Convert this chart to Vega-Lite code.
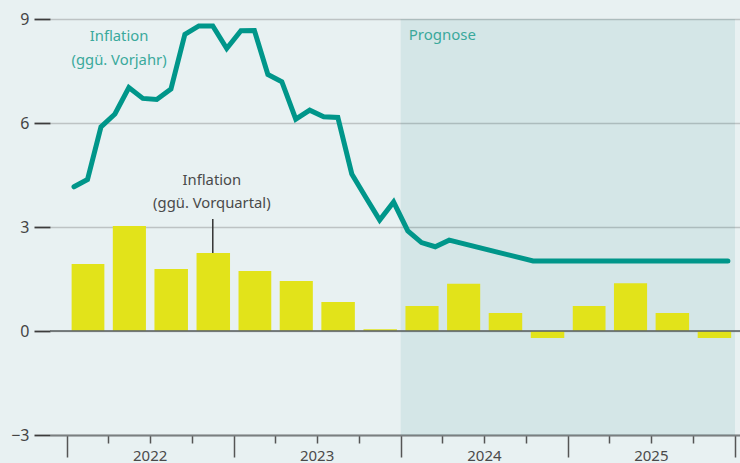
{
  "$schema": "https://vega.github.io/schema/vega-lite/v6.json",
  "autosize": "none",
  "width": 690,
  "height": 416,
  "padding": {"left": 50, "top": 19, "right": 0, "bottom": 28},
  "background": "#e8f1f2",
  "config": {
    "view": {"stroke": null},
    "font": "Noto Sans",
    "text": {"font": "Noto Sans"}
  },
  "datasets": {
    "quarterly": [
      {"quarter": "2022-01-01", "value": 1.93},
      {"quarter": "2022-04-01", "value": 3.03},
      {"quarter": "2022-07-01", "value": 1.79},
      {"quarter": "2022-10-01", "value": 2.25},
      {"quarter": "2023-01-01", "value": 1.73},
      {"quarter": "2023-04-01", "value": 1.44},
      {"quarter": "2023-07-01", "value": 0.84},
      {"quarter": "2023-10-01", "value": 0.05},
      {"quarter": "2024-01-01", "value": 0.72},
      {"quarter": "2024-04-01", "value": 1.36},
      {"quarter": "2024-07-01", "value": 0.52},
      {"quarter": "2024-10-01", "value": -0.2},
      {"quarter": "2025-01-01", "value": 0.72},
      {"quarter": "2025-04-01", "value": 1.38},
      {"quarter": "2025-07-01", "value": 0.52},
      {"quarter": "2025-10-01", "value": -0.2}
    ],
    "monthly": [
      {"month": "2022-01-01", "value": 4.16},
      {"month": "2022-02-01", "value": 4.37},
      {"month": "2022-03-01", "value": 5.89},
      {"month": "2022-04-01", "value": 6.26},
      {"month": "2022-05-01", "value": 7.02},
      {"month": "2022-06-01", "value": 6.71},
      {"month": "2022-07-01", "value": 6.68},
      {"month": "2022-08-01", "value": 6.98},
      {"month": "2022-09-01", "value": 8.56},
      {"month": "2022-10-01", "value": 8.8},
      {"month": "2022-11-01", "value": 8.8},
      {"month": "2022-12-01", "value": 8.15},
      {"month": "2023-01-01", "value": 8.66},
      {"month": "2023-02-01", "value": 8.67},
      {"month": "2023-03-01", "value": 7.4},
      {"month": "2023-04-01", "value": 7.19},
      {"month": "2023-05-01", "value": 6.11},
      {"month": "2023-06-01", "value": 6.37},
      {"month": "2023-07-01", "value": 6.18},
      {"month": "2023-08-01", "value": 6.16},
      {"month": "2023-09-01", "value": 4.53},
      {"month": "2023-10-01", "value": 3.86},
      {"month": "2023-11-01", "value": 3.2},
      {"month": "2023-12-01", "value": 3.72},
      {"month": "2024-01-01", "value": 2.89},
      {"month": "2024-02-01", "value": 2.55},
      {"month": "2024-03-01", "value": 2.43},
      {"month": "2024-04-01", "value": 2.62},
      {"month": "2024-10-01", "value": 2.02},
      {"month": "2025-12-01", "value": 2.02}
    ]
  },
  "encoding": {
    "y": {
      "type": "quantitative",
      "scale": {"domain": [-3, 9], "nice": false, "zero": false},
      "axis": {
        "title": null,
        "values": [-3, 0, 3, 6, 9],
        "domain": false,
        "tickSize": 16,
        "tickWidth": 1.8,
        "tickColor": "#3c3c3c",
        "labelPadding": 5,
        "labelFontSize": 16,
        "labelColor": "#444444",
        "labelFont": "Noto Sans",
        "grid": true,
        "gridColor": "#bdc3c4",
        "gridWidth": 1.5
      }
    }
  },
  "layer": [
    {
      "data": {"values": [{"start": "2024-01-01", "end": "2026-01-01"}]},
      "mark": {"type": "rect", "color": "#007878", "opacity": 0.085},
      "encoding": {
        "x": {
          "field": "start",
          "type": "temporal",
          "scale": {
            "type": "utc",
            "domain": [
              {"year": 2021, "month": 11, "date": 25, "utc": true},
              {"year": 2026, "month": 1, "date": 12, "utc": true}
            ]
          },
          "axis": {
            "title": null,
            "values": [
              {"year": 2022, "month": 1, "date": 1, "utc": true},
              {"year": 2022, "month": 4, "date": 1, "utc": true},
              {"year": 2022, "month": 7, "date": 1, "utc": true},
              {"year": 2022, "month": 10, "date": 1, "utc": true},
              {"year": 2023, "month": 1, "date": 1, "utc": true},
              {"year": 2023, "month": 4, "date": 1, "utc": true},
              {"year": 2023, "month": 7, "date": 1, "utc": true},
              {"year": 2023, "month": 10, "date": 1, "utc": true},
              {"year": 2024, "month": 1, "date": 1, "utc": true},
              {"year": 2024, "month": 4, "date": 1, "utc": true},
              {"year": 2024, "month": 7, "date": 1, "utc": true},
              {"year": 2024, "month": 10, "date": 1, "utc": true},
              {"year": 2025, "month": 1, "date": 1, "utc": true},
              {"year": 2025, "month": 4, "date": 1, "utc": true},
              {"year": 2025, "month": 7, "date": 1, "utc": true},
              {"year": 2025, "month": 10, "date": 1, "utc": true},
              {"year": 2026, "month": 1, "date": 1, "utc": true}
            ],
            "grid": false,
            "domainColor": "#7a7f80",
            "domainWidth": 2,
            "tickColor": "#555555",
            "tickWidth": 1.5,
            "tickSize": {"condition": {"test": "utcmonth(datum.value) === 0", "value": 22}, "value": 8},
            "labelExpr": "utcmonth(datum.value) === 6 ? utcFormat(datum.value, '%Y') : ''",
            "labelFontSize": 15,
            "labelColor": "#4a4a4a",
            "labelPadding": 5,
            "labelFont": "Noto Sans"
          }
        },
        "x2": {"field": "end"}
      }
    },
    {
      "data": {"name": "quarterly"},
      "mark": {"type": "bar", "color": "#e2e31a", "width": {"band": 0.82}},
      "encoding": {
        "x": {"field": "quarter", "type": "temporal", "timeUnit": "utcyearquarter"},
        "y": {"field": "value", "type": "quantitative"}
      }
    },
    {
      "data": {"values": [{"zero": 0}]},
      "mark": {"type": "rule", "color": "#5f6566", "strokeWidth": 2, "opacity": 0.8},
      "encoding": {"y": {"field": "zero", "type": "quantitative"}}
    },
    {
      "data": {"name": "monthly"},
      "mark": {"type": "line", "color": "#00968a", "strokeWidth": 5, "strokeCap": "round"},
      "encoding": {
        "x": {"field": "month", "type": "temporal", "timeUnit": "utcyearmonth", "bandPosition": 0.5},
        "y": {"field": "value", "type": "quantitative"}
      }
    },
    {
      "data": {"values": [{"quarter": "2022-10-01", "from": 2.25, "to": 3.23}]},
      "mark": {"type": "rule", "color": "#333333", "strokeWidth": 1.5},
      "encoding": {
        "x": {"field": "quarter", "type": "temporal", "timeUnit": "utcyearquarter", "bandPosition": 0.5},
        "y": {"field": "from", "type": "quantitative"},
        "y2": {"field": "to"}
      }
    },
    {
      "data": {"values": [
        {"date": "2022-04-25", "y": 8.48, "label": "Inflation\n(ggü. Vorjahr)", "kind": "yoy"},
        {"date": "2022-11-14", "y": 4.34, "label": "Inflation\n(ggü. Vorquartal)", "kind": "qoq"}
      ]},
      "mark": {"type": "text", "lineBreak": "\n", "lineHeight": 23.5, "fontSize": 14.8, "align": "center", "baseline": "middle"},
      "encoding": {
        "x": {"field": "date", "type": "temporal"},
        "y": {"field": "y", "type": "quantitative"},
        "text": {"field": "label"},
        "color": {
          "field": "kind",
          "type": "nominal",
          "scale": {"domain": ["yoy", "qoq"], "range": ["#3aa99c", "#4a4a4a"]},
          "legend": null
        }
      }
    },
    {
      "data": {"values": [{"date": "2024-01-01", "y": 8.54, "label": "Prognose"}]},
      "mark": {"type": "text", "fontSize": 15, "align": "left", "baseline": "middle", "dx": 8, "color": "#3aa99c"},
      "encoding": {
        "x": {"field": "date", "type": "temporal"},
        "y": {"field": "y", "type": "quantitative"},
        "text": {"field": "label"}
      }
    }
  ]
}
